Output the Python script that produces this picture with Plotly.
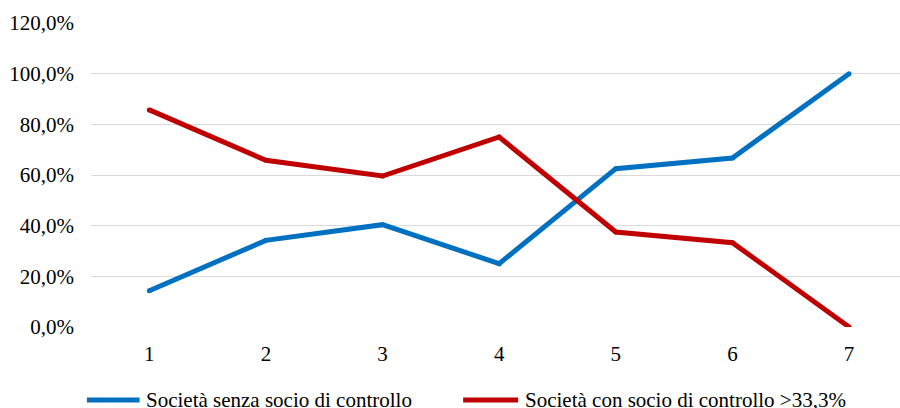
import plotly.graph_objects as go

# Share of companies per class (percent)
categories = [1, 2, 3, 4, 5, 6, 7]
senza_socio = [14.3, 34.2, 40.4, 25.0, 62.5, 66.7, 100.0]
con_socio = [85.7, 65.8, 59.6, 75.0, 37.5, 33.3, 0.0]
series_names = ["Società senza socio di controllo", "Società con socio di controllo >33,3%"]
colors = ["#0070C0", "#C00000"]
y_tick_values = [0, 20, 40, 60, 80, 100, 120]
y_tick_labels = ["0,0%", "20,0%", "40,0%", "60,0%", "80,0%", "100,0%", "120,0%"]

FONT = "Liberation Serif"
FSIZE = 21
LEGEND_Y = -0.24

fig = go.Figure()
for name, vals, col in zip(series_names, [senza_socio, con_socio], colors):
    fig.add_trace(go.Scatter(
        x=categories, y=vals, mode="lines+markers", name=name,
        line=dict(color=col, width=5),
        marker=dict(color=col, size=5, line=dict(width=0)),
        showlegend=False,
    ))

# Legend drawn below the plot: sample line + label
legend_items = [(-0.005, 0.06, 0.066), (0.46, 0.528, 0.534)]
for (x0, x1, xt), name, col in zip(legend_items, series_names, colors):
    fig.add_shape(type="line", xref="paper", yref="paper",
                  x0=x0, x1=x1, y0=LEGEND_Y, y1=LEGEND_Y,
                  line=dict(color=col, width=5))
    fig.add_annotation(xref="paper", yref="paper", x=xt, y=LEGEND_Y,
                       text=name, showarrow=False, xanchor="left", yanchor="middle",
                       font=dict(family=FONT, size=FSIZE, color="#000000"))

fig.update_layout(
    width=900, height=408,
    margin=dict(l=91, r=0, t=23, b=81),
    paper_bgcolor="white", plot_bgcolor="white",
    font=dict(family=FONT, size=FSIZE, color="#000000"),
    xaxis=dict(
        range=[0.5, 7.437], tickmode="array", tickvals=categories,
        ticktext=[str(c) for c in categories],
        tickfont=dict(family=FONT, size=FSIZE, color="#000000"),
        showgrid=False, zeroline=False, showline=False,
        ticks="", ticklabelstandoff=12,
    ),
    yaxis=dict(
        range=[0, 120], tickmode="array", tickvals=y_tick_values,
        ticktext=y_tick_labels,
        tickfont=dict(family=FONT, size=FSIZE, color="#000000"),
        showgrid=True, gridcolor="#D9D9D9", gridwidth=1.3,
        zeroline=False, showline=False, ticks="", ticklabelstandoff=16,
    ),
)

fig.write_html("out.html")
